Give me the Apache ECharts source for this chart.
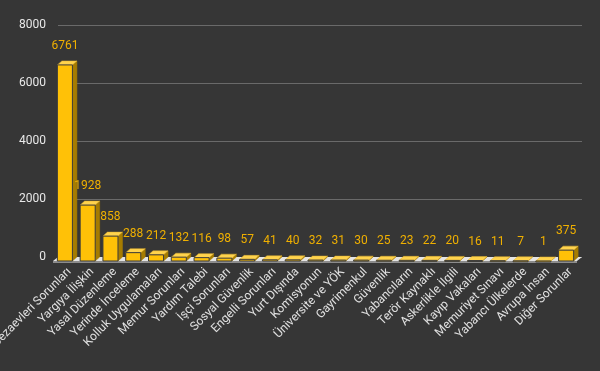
<!DOCTYPE html>
<html>
<head>
<meta charset="utf-8">
<script src="https://cdn.jsdelivr.net/npm/echarts@6/dist/echarts.min.js"></script>
<style>
html,body{margin:0;padding:0;background:#363636;}
#chart{width:600px;height:371px;}
</style>
</head>
<body>
<div id="chart"></div>
<script>
const categories = [
  'Cezaevleri Sorunları','Yargıya İlişkin','Yasal Düzenleme','Yerinde İnceleme',
  'Kolluk Uygulamaları','Memur Sorunları','Yardım Talebi','İşçi Sorunları',
  'Sosyal Güvenlik','Engelli Sorunları','Yurt Dışında','Komisyonun',
  'Üniversite ve YÖK','Gayrimenkul','Güvenlik','Yabancıların',
  'Terör Kaynaklı','Askerlikle İlgili','Kayıp Vakaları','Memuriyet Sınavı',
  'Yabancı Ülkelerde','Avrupa İnsan','Diğer Sorunlar'
];
const values = [6761,1928,858,288,212,132,116,98,57,41,40,32,31,30,25,23,22,20,16,11,7,1,375];
const yTicks = [0,2000,4000,6000,8000];

const DX = 4.5, DY = 4;      // depth offset of the pseudo-3D bars
const FDX = 5, FDY = 4;      // depth of the floor
const FONT = 'Roboto';

const chart = echarts.init(document.getElementById('chart'), null, {renderer:'canvas'});

function renderFloor(params, api){
  const cs = params.coordSys;
  const yb = cs.y + cs.height;
  const x0 = cs.x, x1 = cs.x + cs.width;
  return {type:'group', children:[
    {type:'polygon', shape:{points:[[x0,yb],[x1,yb],[x1-FDX,yb+FDY],[x0-FDX,yb+FDY]]},
     style:{fill:'#e4e4e4'}},
    {type:'rect', shape:{x:x0-FDX, y:yb+FDY, width:cs.width, height:2},
     style:{fill:'#8c8c8c'}}
  ]};
}

function renderBar(params, api){
  const i = api.value(0), v = api.value(1);
  const p = api.coord([i, v]);
  const p0 = api.coord([i, 0]);
  const w = api.size([1,0])[0] * 0.66;
  const xc = p[0] - DX;
  const xl = xc - w/2, xr = xc + w/2;
  const yb = p0[1] + DY, yt = p[1] + DY;
  return {type:'group', children:[
    {type:'polygon', shape:{points:[[xr,yt],[xr+DX,yt-DY],[xr+DX,yb-DY],[xr,yb]]},
     style:{fill:'#a67c00', stroke:'#a67c00', lineWidth:0.5}},
    {type:'polygon', shape:{points:[[xl,yt],[xr,yt],[xr+DX,yt-DY],[xl+DX,yt-DY]]},
     style:{fill:'#ffd34d', stroke:'#e0b030', lineWidth:0.5}},
    {type:'rect', shape:{x:xl, y:yt, width:w, height:Math.max(yb-yt,1)},
     style:{fill:'#ffc107', stroke:'#3c3c3c', lineWidth:1}},
    {type:'text', style:{text:String(v), x:xc, y:yt-19, align:'center', verticalAlign:'middle',
      fill:'#f0b000', font:'12px ' + FONT}}
  ]};
}

chart.setOption({
  backgroundColor:'#363636',
  animation:false,
  grid:{left:58, right:18, top:25, bottom:114, outerBoundsMode:'none', containLabel:false},
  xAxis:{
    type:'category', data:categories,
    axisLine:{show:false}, axisTick:{show:false},
    axisLabel:{interval:0, rotate:45, margin:13, color:'#e0e0e0', fontSize:12, fontFamily:FONT}
  },
  yAxis:{
    type:'value', min:yTicks[0], max:yTicks[yTicks.length-1], interval:2000,
    axisLine:{show:false}, axisTick:{show:false},
    axisLabel:{margin:12, color:'#e8e8e8', fontSize:12, fontFamily:FONT,
      formatter:(v)=>String(v)},
    splitLine:{lineStyle:{color:'#6a6a6a', width:1}}
  },
  series:[
    {type:'custom', renderItem:renderFloor, data:[[0,0]], z:1, silent:true},
    {type:'custom', renderItem:renderBar, z:2,
     data:values.map((v,i)=>[i,v])}
  ]
});
</script>
</body>
</html>
